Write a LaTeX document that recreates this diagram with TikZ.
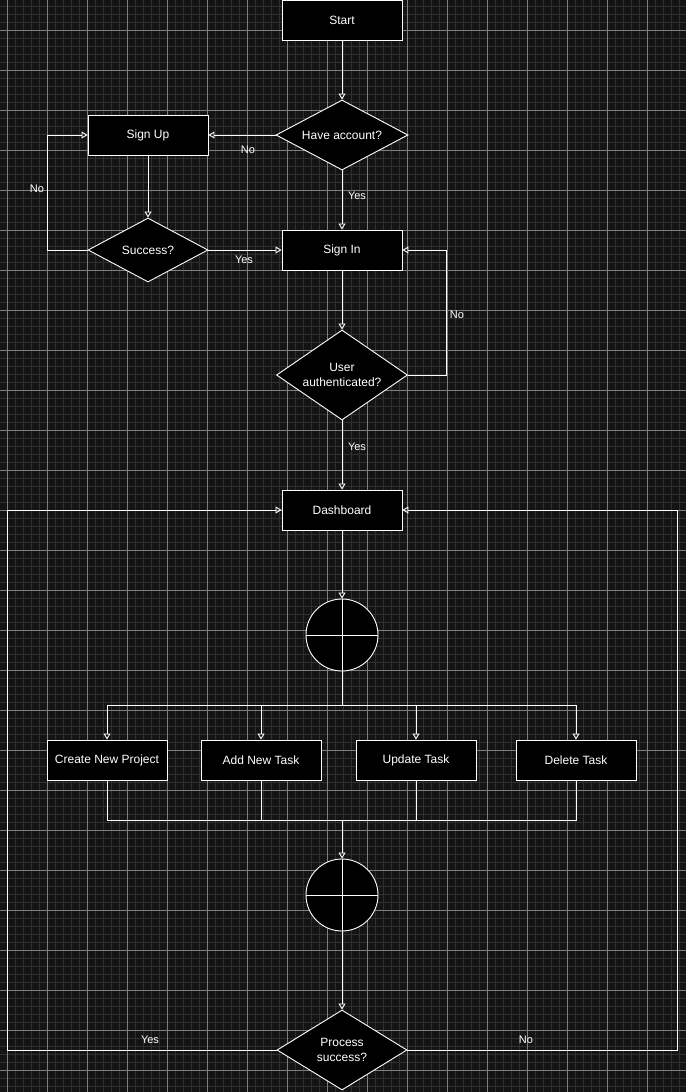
\documentclass[tikz,border=0pt]{standalone}
\usepackage{fontspec}
\setmainfont{Liberation Sans}
\usetikzlibrary{shapes.geometric,arrows.meta}
\definecolor{bg}{HTML}{141414}
\definecolor{gminor}{HTML}{303030}
\definecolor{gmajor}{HTML}{7E7E7E}
\begin{document}
\begin{tikzpicture}[x=1pt,y=-1pt,
  box/.style={draw=white, fill=black, line width=0.9pt, minimum width=120pt, minimum height=40pt, inner sep=0pt, text=white, font=\fontsize{12}{14}\selectfont},
  dia/.style={diamond, aspect=1.5, draw=white, fill=black, line width=0.9pt, inner sep=0pt, text=white, align=center, font=\fontsize{12}{15}\selectfont},
  junc/.style={circle, draw=white, fill=black, line width=0.9pt, minimum size=72pt, inner sep=0pt},
  arr/.style={draw=white, line width=0.9pt, -{Triangle[open, length=6pt, width=7pt]}},
  ln/.style={draw=white, line width=0.9pt},
  lbl/.style={text=white, font=\fontsize{11}{13}\selectfont, inner sep=1pt}]
\useasboundingbox (0,0) rectangle (686,1092);
% background and grid
\fill[bg] (0,0) rectangle (686,1092);
\foreach \x in {-1,7,...,687} \draw[gminor, line width=0.7pt] (\x,0) -- (\x,1092);
\foreach \y in {-2,6,...,1094} \draw[gminor, line width=0.7pt] (0,\y) -- (686,\y);
\foreach \x in {7,47,...,687} \draw[gmajor, line width=0.8pt] (\x,0) -- (\x,1092);
\foreach \y in {30,70,...,1092} \draw[gmajor, line width=0.8pt] (0,\y) -- (686,\y);

% nodes
\node[box] (start) at (342,20) {Start};
\node[dia, minimum width=132pt, minimum height=70pt] (have) at (342,135) {Have account?};
\node[box] (signup) at (148,135) {Sign Up};
\node[dia, minimum width=120pt, minimum height=64pt] (succ) at (148,250) {Success?};
\node[box] (signin) at (342,250) {Sign In};
\node[dia, minimum width=131pt, minimum height=90pt] (auth) at (342,375) {User\\authenticated?};
\node[box] (dash) at (342,510) {Dashboard};
\node[junc] (o1) at (342,635) {};
\node[box] (cnp) at (107,760) {Create New Project};
\node[box] (ant) at (261,760) {Add New Task};
\node[box] (upd) at (416,760) {Update Task};
\node[box] (del) at (576,760) {Delete Task};
\node[junc] (o2) at (342,895) {};
\node[dia, minimum width=130pt, minimum height=80pt] (proc) at (342,1050) {Process\\success?};

\draw[ln] (o1.north) -- (o1.south) (o1.west) -- (o1.east);
\draw[ln] (o2.north) -- (o2.south) (o2.west) -- (o2.east);

% helper coordinates
\coordinate (cA) at (47,0);
\coordinate (cB) at (446,0);
\coordinate (cL) at (7,0);
\coordinate (cR) at (677,0);
\coordinate (b1) at (342,705);
\coordinate (m1) at (342,820);

% connectors
\draw[arr] (start.south) -- (have.north);
\draw[arr] (have.west) -- (signup.east);
\draw[arr] (have.south) -- (signin.north);
\draw[arr] (signup.south) -- (succ.north);
\draw[arr] (succ.east) -- (signin.west);
\draw[arr] (succ.west) -- (succ.west -| cA) |- (signup.west);
\draw[arr] (signin.south) -- (auth.north);
\draw[arr] (auth.east) -- (auth.east -| cB) |- (signin.east);
\draw[arr] (auth.south) -- (dash.north);
\draw[arr] (dash.south) -- (o1.north);
\draw[ln] (o1.south) -- (b1);
\draw[arr] (b1) -| (cnp.north);
\draw[arr] (b1) -| (ant.north);
\draw[arr] (b1) -| (upd.north);
\draw[arr] (b1) -| (del.north);
\draw[ln] (cnp.south) |- (m1);
\draw[ln] (ant.south) |- (m1);
\draw[ln] (upd.south) |- (m1);
\draw[ln] (del.south) |- (m1);
\draw[arr] (m1) -- (o2.north);
\draw[arr] (o2.south) -- (proc.north);
\draw[arr] (proc.west) -- (proc.west -| cL) |- (dash.west);
\draw[arr] (proc.east) -- (proc.east -| cR) |- (dash.east);

% labels
\node[lbl] (l1) at (248,150) {No};
\node[lbl] (l2) at (357,196) {Yes};
\node[lbl] (l3) at (37,189) {No};
\node[lbl] (l4) at (244,260) {Yes};
\node[lbl] (l5) at (457,315) {No};
\node[lbl] (l6) at (357,447) {Yes};
\node[lbl] (l7) at (150,1040) {Yes};
\node[lbl] (l8) at (526,1040) {No};
\end{tikzpicture}
\end{document}
